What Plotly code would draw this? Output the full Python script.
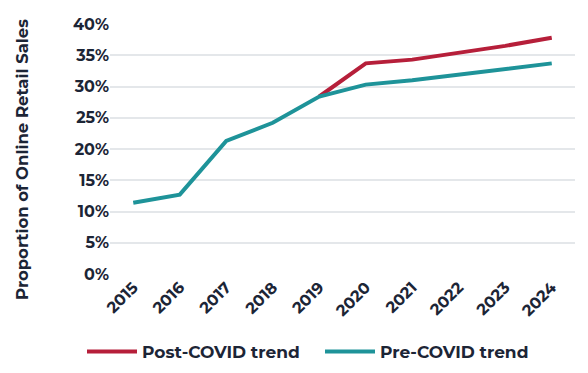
import plotly.graph_objects as go

years = ["2015", "2016", "2017", "2018", "2019", "2020", "2021", "2022", "2023", "2024"]
pre_covid = [11.4, 12.7, 21.3, 24.2, 28.4, 30.3, 31.0, 31.9, 32.8, 33.7]
post_years = ["2019", "2020", "2021", "2022", "2023", "2024"]
post_covid = [28.4, 33.7, 34.3, 35.4, 36.5, 37.8]
y_ticks = [0, 5, 10, 15, 20, 25, 30, 35, 40]
y_labels = [f"{v}%" for v in y_ticks]
y_title = "Proportion of Online Retail Sales"

dark = "#1c2536"
font_fam = "Montserrat, 'Open Sans', 'DejaVu Sans', sans-serif"

# page body has an 8px default margin: figure is sized/offset to compensate
W, H = 580, 365
L, R, T, B = 102, 13, 16, 99
pw, ph = W - L - R, H - T - B

fig = go.Figure()
fig.add_trace(go.Scatter(x=post_years, y=post_covid, mode="lines", name="Post-COVID trend",
                         line=dict(color="#b61f3a", width=4), legend="legend"))
fig.add_trace(go.Scatter(x=years, y=pre_covid, mode="lines", name="Pre-COVID trend",
                         line=dict(color="#1e9399", width=4), legend="legend2"))

fig.add_annotation(text=y_title, textangle=-90, showarrow=False,
                   xref="paper", yref="paper",
                   x=(14 - L) / pw, y=(H - B - 152) / ph,
                   xanchor="center", yanchor="middle",
                   font=dict(size=16.5, weight="bold", color=dark, family=font_fam))

leg_font = dict(size=17, family=font_fam, color=dark, weight="bold")
fig.update_layout(
    width=W, height=H,
    margin=dict(l=L, r=R, t=T, b=B, autoexpand=False),
    paper_bgcolor="white", plot_bgcolor="white",
    font=dict(family=font_fam, color=dark, size=14),
    showlegend=True,
    legend=dict(orientation="h", x=(74 - L) / pw, xanchor="left",
                y=(H - B - 344) / ph, yanchor="middle",
                font=leg_font, itemwidth=50),
    legend2=dict(orientation="h", x=(312 - L) / pw, xanchor="left",
                 y=(H - B - 344) / ph, yanchor="middle",
                 font=leg_font, itemwidth=50),
    xaxis=dict(type="category", categoryorder="array", categoryarray=years,
               range=[-0.5, 9.5], automargin=False,
               tickangle=-45, showgrid=False, zeroline=False, showline=False,
               tickfont=dict(size=16, weight="bold", color=dark), ticks=""),
    yaxis=dict(range=[0, 40], tickvals=y_ticks, ticktext=y_labels, automargin=False,
               showgrid=True, gridcolor="#e4e7ea", gridwidth=2, zeroline=False,
               tickfont=dict(size=16, weight="bold", color=dark), ticks=""),
)
fig.write_html("out.html")
